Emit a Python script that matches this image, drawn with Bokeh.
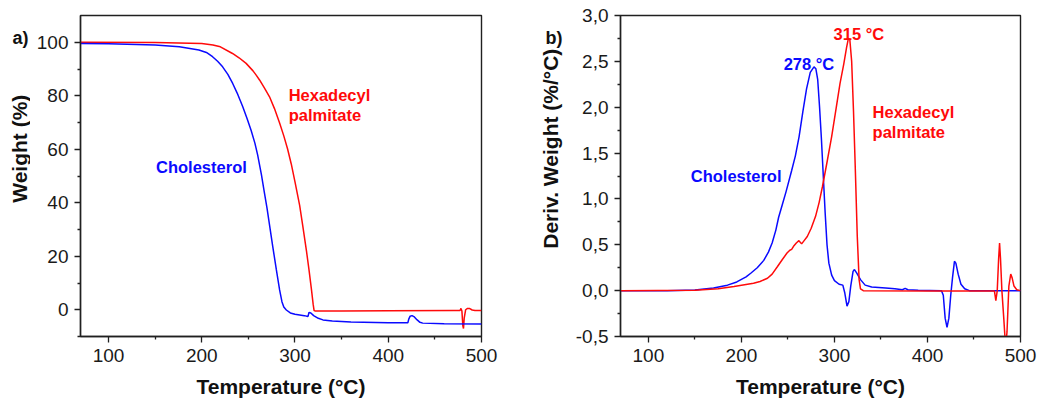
import math
from bokeh.plotting import figure
from bokeh.layouts import row
from bokeh.models import Range1d, FixedTicker, Label
from bokeh.embed import file_html
from bokeh.resources import INLINE

# ---------------- data: panel a) TGA weight (%) ----------------
chol_tga_T = [70, 100, 150, 176, 197, 205, 211.6, 217, 222.4, 228, 233.2, 238, 244, 248.5, 253, 257,
              260, 264, 267, 270, 273, 276, 280, 283.5, 286, 288, 290.7, 295, 300, 310, 314, 315, 317,
              320, 325, 330, 340, 360, 400, 421, 422, 423.5, 425.5, 428, 431, 434, 437, 460, 500]
chol_tga_W = [99.5, 99.4, 99.0, 98.3, 97.1, 96.2, 94.6, 92.9, 90.8, 88.0, 84.6, 81.0, 75.9, 71.6, 67.0,
              62.3, 57.8, 50.5, 44.2, 38.0, 31.0, 24.0, 15.0, 7.4, 3.0, 1.0, -0.1, -1.2, -1.7, -2.2,
              -2.5, -1.0, -1.2, -2.2, -3.2, -3.8, -4.2, -4.6, -4.9, -4.9, -3.5, -2.4, -2.2, -2.7, -3.8,
              -4.7, -5.0, -5.2, -5.3]

hexa_tga_T = [70, 150, 200, 212, 220, 233, 240, 247.6, 255, 258.4, 262, 267, 272.7, 278, 283.5, 288,
              292, 296, 300, 305, 308.5, 312.3, 315, 317.7, 319.5, 320.5, 322, 350, 400, 470, 477, 478,
              479, 480, 480.7, 481.5, 483, 485, 487, 490, 493, 500]
hexa_tga_W = [100.0, 99.9, 99.5, 99.0, 98.3, 95.8, 94.2, 92.1, 89.3, 87.7, 85.9, 83.0, 79.6, 75.2, 69.8,
              65.0, 60.2, 54.5, 47.8, 39.0, 31.0, 22.0, 15.0, 7.4, 2.0, -0.3, -0.5, -0.5, -0.4, -0.3,
              -0.3, 0.5, -0.5, -6.0, -7.0, -3.0, 0.0, 0.5, 0.5, -0.1, -0.3, -0.3]

# ---------------- data: panel b) DTG deriv. weight (%/°C) ----------------
chol_dtg_T = [70, 120, 150, 170, 185, 195, 205, 210, 217, 224, 229, 233, 237, 240, 244, 248, 254, 258,
              262, 266, 270, 274, 278, 280, 282, 284, 286, 288, 290, 292, 294, 297, 300, 305, 309, 311,
              313.5, 315.5, 317.5, 320, 321.5, 324, 328, 333, 340, 355, 365, 373, 376, 379, 390, 415,
              417, 419, 421, 423, 425, 427, 429, 430.5, 433, 436, 440, 445, 500]
chol_dtg_D = [0.0, 0.0, 0.008, 0.03, 0.06, 0.095, 0.15, 0.19, 0.25, 0.33, 0.42, 0.52, 0.66, 0.8, 0.94,
              1.08, 1.31, 1.47, 1.68, 1.95, 2.2, 2.38, 2.44, 2.42, 2.3, 2.0, 1.65, 1.25, 0.85, 0.5, 0.3,
              0.17, 0.11, 0.07, 0.06, -0.02, -0.17, -0.12, 0.05, 0.21, 0.23, 0.19, 0.12, 0.06, 0.04,
              0.03, 0.02, 0.01, 0.025, 0.01, 0.005, 0.0, -0.05, -0.3, -0.4, -0.3, -0.05, 0.15, 0.32,
              0.30, 0.18, 0.07, 0.02, 0.0, 0.0]

hexa_dtg_T = [70, 150, 175, 192, 213, 220, 228, 233, 238.6, 244, 249, 252, 254, 256.5, 259, 261.8, 264.7,
              267, 270.8, 275, 279.7, 283.5, 287, 292, 297, 302, 306, 310, 313, 315, 316.5, 318.5,
              320.5, 322.5, 324.5, 326.5, 328, 331, 400, 472, 473.5, 475, 476.5, 477.5, 478.5, 480,
              482, 484, 485.5, 487.5, 489.5, 491, 493, 496, 500]
hexa_dtg_D = [0.0, 0.005, 0.02, 0.044, 0.08, 0.1, 0.135, 0.18, 0.26, 0.34, 0.41, 0.44, 0.45, 0.49,
              0.52, 0.545, 0.51, 0.54, 0.59, 0.68, 0.81, 0.96, 1.13, 1.4, 1.68, 2.0, 2.26, 2.47, 2.65,
              2.75, 2.74, 2.5, 1.95, 1.3, 0.6, 0.12, 0.02, 0.0, -0.005, -0.005, -0.11, 0.0, 0.35, 0.52,
              0.35, 0.0, -0.3, -0.62, -0.45, 0.05, 0.18, 0.14, 0.05, 0.01, 0.0]

x_ticks = [100, 200, 300, 400, 500]
x_minor = [150, 250, 350, 450]
a_y_ticks = [0, 20, 40, 60, 80, 100]
a_y_minor = [-10, 10, 30, 50, 70, 90]
b_y_ticks = [-0.5, 0.0, 0.5, 1.0, 1.5, 2.0, 2.5, 3.0]
b_y_labels = ["-0,5", "0,0", "0,5", "1,0", "1,5", "2,0", "2,5", "3,0"]
b_y_minor = [-0.25, 0.25, 0.75, 1.25, 1.75, 2.25, 2.75]

FONT = "Liberation Sans"
BLUE = "#0a0aff"
RED = "#ff0a0a"
DARK = "#111111"
H_TOTAL = 400


def make_fig(frame_w, ylo, yhi, lb, rb):
    p = figure(frame_width=frame_w, frame_height=321,
               x_range=Range1d(70, 500), y_range=Range1d(ylo, yhi),
               output_backend="svg", toolbar_location=None,
               min_border_left=lb, min_border_right=rb, min_border_top=15, min_border_bottom=64)
    p.grid.visible = False
    p.background_fill_color = "white"
    p.border_fill_color = "white"
    p.outline_line_color = "#202020"
    p.outline_line_width = 1.4
    p.outline_line_alpha = 1.0
    for ax in (p.xaxis[0], p.yaxis[0]):
        ax.axis_line_color = "#202020"
        ax.axis_line_width = 1.4
        ax.major_tick_line_color = "#202020"
        ax.minor_tick_line_color = "#202020"
        ax.major_tick_line_width = 1.3
        ax.minor_tick_line_width = 1.3
        ax.major_tick_out = 6
        ax.major_tick_in = 0
        ax.minor_tick_out = 3
        ax.minor_tick_in = 0
        ax.major_label_text_font = FONT
        ax.major_label_text_font_size = "19px"
        ax.major_label_text_color = "#1a1a1a"
    p.xaxis.ticker = FixedTicker(ticks=x_ticks, minor_ticks=x_minor)
    p.xaxis.major_label_standoff = 6
    p.xaxis.axis_label = "Temperature (°C)"
    p.xaxis.axis_label_text_font = FONT
    p.xaxis.axis_label_text_font_style = "bold"
    p.xaxis.axis_label_text_font_size = "21px"
    p.xaxis.axis_label_text_color = DARK
    p.xaxis.axis_label_standoff = 10
    p.yaxis.major_label_standoff = 6
    return p


def side_fig(w, ylabel, ylabel_x, panel, panel_x):
    s = figure(width=w, height=H_TOTAL, x_range=Range1d(0, w), y_range=Range1d(0, H_TOTAL),
               output_backend="svg", toolbar_location=None, min_border=0,
               x_axis_location=None, y_axis_location=None)
    s.grid.visible = False
    s.outline_line_color = None
    s.border_fill_color = "white"
    s.add_layout(Label(x=ylabel_x, y=H_TOTAL - 166, text=ylabel, angle=math.pi / 2,
                       text_align="center", text_baseline="middle", text_font=FONT,
                       text_font_style="bold", text_font_size="21px", text_color=DARK))
    s.add_layout(Label(x=panel_x, y=H_TOTAL - 15, text=panel, text_align="left", text_baseline="top",
                       text_font=FONT, text_font_style="bold", text_font_size="18px", text_color=DARK))
    return s


# ---------------- panel a ----------------
sa = side_fig(30, "Weight (%)", 18.5, "a)", 12)
pa = make_fig(401, -10, 110, 50, 55)
pa.yaxis.ticker = FixedTicker(ticks=a_y_ticks, minor_ticks=a_y_minor)
pa.line(hexa_tga_T, hexa_tga_W, line_color=RED, line_width=1.5)
pa.line(chol_tga_T, chol_tga_W, line_color=BLUE, line_width=1.5)
for txt, xx, yy, col in [("Hexadecyl", 293.2, 80.3, RED), ("palmitate", 293.2, 72.8, RED),
                         ("Cholesterol", 151.0, 53.5, BLUE)]:
    pa.add_layout(Label(x=xx, y=yy, text=txt, text_align="left", text_baseline="alphabetic",
                        text_font=FONT, text_font_style="bold", text_font_size="16.5px", text_color=col))

# ---------------- panel b ----------------
sb = side_fig(34, "Deriv. Weight (%/°C)", 13.5, "b)", 9)
pb = make_fig(400, -0.5, 3.0, 50, 17)
pb.yaxis.ticker = FixedTicker(ticks=b_y_ticks, minor_ticks=b_y_minor)
pb.yaxis.major_label_overrides = {t: l for t, l in zip(b_y_ticks, b_y_labels)}
pb.line(chol_dtg_T, chol_dtg_D, line_color=BLUE, line_width=1.5)
pb.line(hexa_dtg_T, hexa_dtg_D, line_color=RED, line_width=1.5)
for txt, xx, yy, col in [("278 °C", 245.4, 2.475, BLUE), ("315 °C", 299.1, 2.80, RED),
                         ("Hexadecyl", 341.0, 1.948, RED), ("palmitate", 341.0, 1.727, RED),
                         ("Cholesterol", 145.5, 1.248, BLUE)]:
    pb.add_layout(Label(x=xx, y=yy, text=txt, text_align="left", text_baseline="alphabetic",
                        text_font=FONT, text_font_style="bold", text_font_size="16.5px", text_color=col))

layout = row(sa, pa, sb, pb)
open("out.html", "w").write(file_html(layout, INLINE))
